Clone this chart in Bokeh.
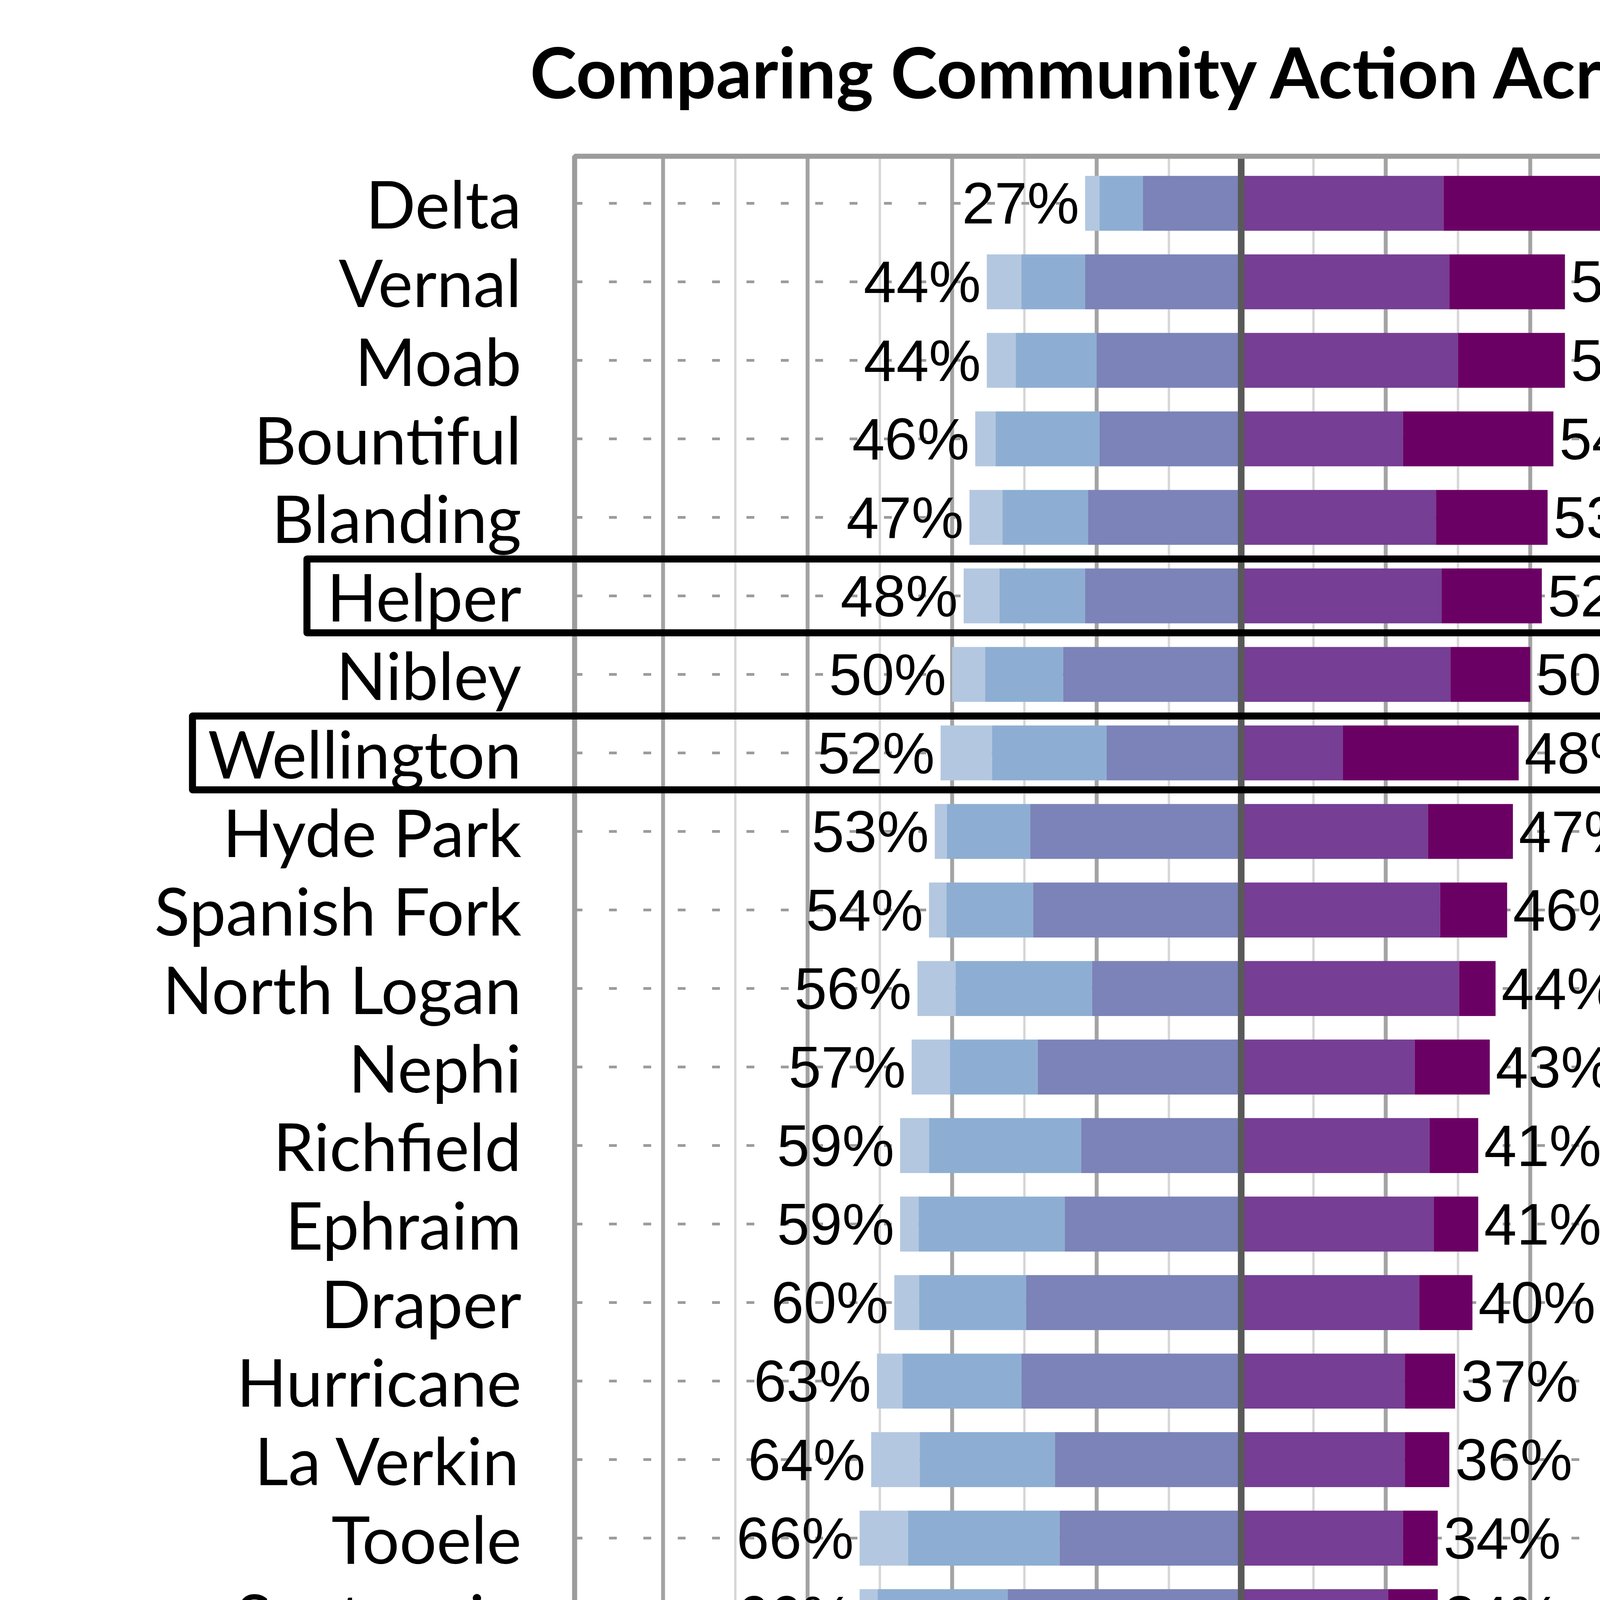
import numpy as np
from bokeh.plotting import figure
from bokeh.models import Range1d, FixedTicker
from bokeh.layouts import column
from bokeh.core.properties import value
from bokeh.embed import file_html
from bokeh.resources import INLINE

# cities, top to bottom
cities = ['Delta', 'Vernal', 'Moab', 'Bountiful', 'Blanding', 'Helper', 'Nibley',
          'Wellington', 'Hyde Park', 'Spanish Fork', 'North Logan', 'Nephi',
          'Richfield', 'Ephraim', 'Draper', 'Hurricane', 'La Verkin', 'Tooele',
          'Santaquin', 'Herriman', 'South Ogden', 'Logan', 'Price', 'Lehi',
          'Saratoga Springs', 'Layton', 'Sandy', 'Vineyard', 'East Carbon']

# percent of respondents per answer, 1 = not at all ... 5 = a great deal
r1 = [2.5, 6, 5, 3.5, 5.7, 6.2, 5.7, 8.9, 2.1, 3, 6.6, 6.6, 5, 3.2, 4.3, 4.4,
      8.4, 8.4, 3.1, 8.8, 10.9, 9.1, 12, 10.2, 4.6, 9.8, 6.3, 8.8, 19.8]
r2 = [7.5, 11, 14, 18, 14.8, 14.8, 13.5, 19.8, 14.4, 15, 23.6, 15.2, 26.3, 25.3,
      18.5, 20.6, 23.4, 26.2, 22.5, 19.7, 20, 24.3, 26.2, 24.6, 28.8, 27, 24.2, 26, 33.3]
r3 = [17, 27, 25, 24.5, 26.5, 27, 30.8, 23.3, 36.5, 36, 25.8, 35.2, 27.7, 30.5,
      37.2, 38, 32.2, 31.4, 40.4, 38.5, 36.1, 34.6, 30.8, 34.2, 37.6, 35.2, 41.5, 38.2, 21.9]
r4 = [35, 36, 37.5, 28, 33.7, 34.7, 36.2, 17.6, 32.3, 34.4, 37.7, 30, 32.6, 33.3,
      30.8, 28.3, 28.3, 28, 25.4, 23.5, 24, 25, 19, 25.4, 22.4, 21.5, 23.8, 19.4, 17.4]
r5 = [38, 20, 18.5, 26, 19.3, 17.3, 13.8, 30.4, 14.7, 11.6, 6.3, 13, 8.4, 7.7,
      9.2, 8.7, 7.7, 6, 8.6, 9.5, 9, 7, 12, 5.6, 6.6, 6.5, 4.2, 7.6, 7.6]

highlighted = ['Helper', 'Wellington', 'Price', 'East Carbon']

tick_vals = [-100, -75, -50, -25, 0, 25, 50, 75, 100]
tick_labels = ['100%', '75%', '50%', '25%', '0%', '25%', '50%', '75%', '100%']

answer_nums = ['1', '2', '3', '4', '5']
colors = ['#b3c7e0', '#8daed2', '#7b83b8', '#763e94', '#6b0064']

title = 'Comparing Community Action Across Cities'
question = ['In your city, to what degree', 'do people take action together',
            'in response to local problems', 'or opportunities?']

W = 4992
HA = 6570
HB = 1235
N = len(cities)
y = np.arange(N)[::-1].astype(float)

a1, a2, a3, a4, a5 = [np.array(r, dtype=float) for r in (r1, r2, r3, r4, r5)]
neg = a1 + a2 + a3
pos = a4 + a5

# chart
p = figure(width=W, height=HA, x_range=Range1d(-214.66, 122.64), y_range=Range1d(-0.706, 30.587),
           output_backend="svg", toolbar_location=None, y_axis_location=None,
           min_border_left=0, min_border_right=0, min_border_top=0, min_border_bottom=280)
p.outline_line_color = None
p.grid.visible = False
p.background_fill_color = 'white'

fl, fr, fb, ft = -115.3, 115.7, -0.6, N - 1 + 0.6

minor = [-87.5, -62.5, -37.5, -12.5, 12.5, 37.5, 62.5, 87.5]
major = [-100, -75, -50, -25, 25, 50, 75, 100]
p.segment(x0=minor, x1=minor, y0=fb, y1=ft, line_color='#d6d6d6', line_width=6)
p.segment(x0=major, x1=major, y0=fb, y1=ft, line_color='#a3a3a3', line_width=10)
p.segment(x0=fl, x1=fr, y0=y, y1=y, line_color='#9c9c9c', line_width=7, line_dash='20 68')

h = 0.7
p.hbar(y=y, left=-neg, right=-(a2 + a3), height=h, fill_color=colors[0], line_color=None)
p.hbar(y=y, left=-(a2 + a3), right=-a3, height=h, fill_color=colors[1], line_color=None)
p.hbar(y=y, left=-a3, right=0, height=h, fill_color=colors[2], line_color=None)
p.hbar(y=y, left=0, right=a4, height=h, fill_color=colors[3], line_color=None)
p.hbar(y=y, left=a4, right=pos, height=h, fill_color=colors[4], line_color=None)

p.segment(x0=[0], x1=[0], y0=[fb], y1=[ft], line_color='#595959', line_width=17)
p.quad(left=[fl], right=[fr], bottom=[fb], top=[ft], fill_color=None,
       line_color='#9c9c9c', line_width=13)

# boxes round the highlighted cities
box_left = {'Helper': -161.6, 'Wellington': -181.4, 'Price': -152.2, 'East Carbon': -187.5}
hy = [y[cities.index(c)] for c in highlighted]
p.quad(left=[box_left[c] for c in highlighted], right=121.9, bottom=[v - 0.47 for v in hy],
       top=[v + 0.47 for v in hy], fill_color=None, line_color='black', line_width=18,
       line_join='round')

# data labels
p.text(x=-neg, y=y, text=['%d%%' % round(v) for v in neg], x_offset=-15,
       text_align='right', text_baseline='middle', text_font=value('Liberation Sans'),
       text_font_size='150px', text_color='black')
p.text(x=pos, y=y, text=['%d%%' % round(v) for v in pos], x_offset=15,
       text_align='left', text_baseline='middle', text_font=value('Liberation Sans'),
       text_font_size='150px', text_color='black')

# city labels
p.text(x=-124.5, y=y, text=cities, text_align='right', text_baseline='middle',
       text_font=value('Lato'), text_font_size='168px', text_color='black')

p.text(x=[-4.0], y=[29.682], text=[title], text_align='center', text_baseline='middle',
       text_font=value('Lato'), text_font_style='bold', text_font_size='181px', text_color='black')

p.xaxis.ticker = FixedTicker(ticks=tick_vals, minor_ticks=[])
p.xaxis.major_label_overrides = dict(zip(tick_vals, tick_labels))
p.xaxis.axis_line_color = None
p.xaxis.major_tick_line_color = None
p.xaxis.major_tick_out = 0
p.xaxis.major_label_standoff = 40
p.xaxis.major_label_text_font = 'Lato'
p.xaxis.major_label_text_font_size = '148px'
p.xaxis.major_label_text_color = 'black'

# legend below
q = figure(width=W, height=HB, x_range=Range1d(0, W), y_range=Range1d(HB, 0),
           output_backend="svg", toolbar_location=None, x_axis_location=None,
           y_axis_location=None, min_border=0)
q.outline_line_color = None
q.grid.visible = False

q.text(x=[3188], y=[182], text=['Percent of Respondents'], text_align='center',
       text_baseline='middle', text_font=value('Lato'), text_font_size='168px',
       text_color='black')
q.text(x=2147, y=[428, 589, 749, 908], text=question, text_align='right',
       text_baseline='middle', text_font=value('Lato'), text_font_size='154px',
       text_color='black')

sx = [2495 + 544 * k for k in range(5)]
q.rect(x=sx, y=568, width=189, height=187, fill_color=colors, line_color=None)
q.text(x=[v + 8 for v in sx], y=855, text=answer_nums, text_align='center',
       text_baseline='middle', text_font=value('Lato'), text_font_size='160px',
       text_color='black')
q.text(x=[2512, 2512, 4662, 4662], y=[1018, 1147, 1018, 1147],
       text=['Not at', 'All', 'A Great', 'Deal'], text_align='center',
       text_baseline='middle', text_font=value('Lato'), text_font_size='138px',
       text_color='black')

layout = column(p, q)
open("out.html", "w").write(file_html(layout, INLINE))
